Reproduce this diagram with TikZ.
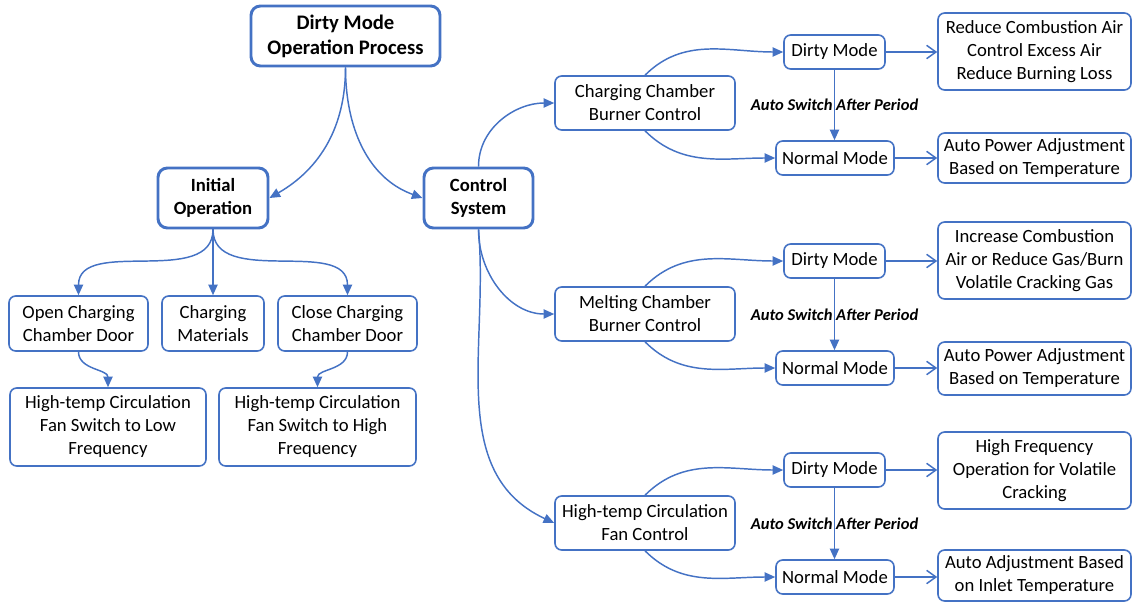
\documentclass[tikz,border=0pt]{standalone}
\usepackage{fontspec}
\setmainfont{Carlito}
\usetikzlibrary{arrows.meta}
\definecolor{ob}{HTML}{4472C4}
\begin{document}
\begin{tikzpicture}[x=0.75pt,y=-0.75pt,
 box/.style={draw=ob, line width=1.2pt, rounded corners=5pt, align=center, inner sep=0pt, fill=white, font=\fontsize{14}{17.25}\selectfont},
 mainbox/.style={box, line width=2.2pt, rounded corners=7pt, font=\fontsize{14}{17.5}\selectfont\bfseries},
 arr/.style={draw=ob, line width=1.1pt, -{Triangle[length=8pt,width=7pt]}},
 oarr/.style={draw=ob, line width=1.1pt, -{Straight Barb[length=7pt,width=10pt]}},
 lbl/.style={font=\fontsize{12.4}{14}\selectfont\bfseries\itshape}]
\useasboundingbox (0,0) rectangle (1132,603);

% main nodes
\node[mainbox, minimum width=141.75pt, minimum height=45pt, font=\fontsize{15.5}{18.75}\selectfont\bfseries] (root) at (345.5,36) {Dirty Mode\\Operation Process};
\node[mainbox, minimum width=82.5pt, minimum height=45pt] (init) at (213,198) {Initial\\Operation};
\node[mainbox, minimum width=81.75pt, minimum height=45pt] (ctrl) at (478.5,198) {Control\\System};

% left branch
\node[box, minimum width=104.25pt, minimum height=41.25pt] (open) at (78.5,323.5) {Open Charging\\Chamber Door};
\node[box, minimum width=76.5pt, minimum height=41.25pt] (mat) at (213,323.5) {Charging\\Materials};
\node[box, minimum width=104.25pt, minimum height=41.25pt] (close) at (347.5,323.5) {Close Charging\\Chamber Door};
\node[box, minimum width=147pt, minimum height=58.5pt] (low) at (108,427) {High-temp Circulation\\Fan Switch to Low\\Frequency};
\node[box, minimum width=147.75pt, minimum height=58.5pt] (high) at (317.5,427) {High-temp Circulation\\Fan Switch to High\\Frequency};

% right branch: controls
\node[box, minimum width=135pt, minimum height=40.5pt] (ccb) at (645,103) {Charging Chamber\\Burner Control};
\node[box, minimum width=135pt, minimum height=40.5pt] (mcb) at (645,314) {Melting Chamber\\Burner Control};
\node[box, minimum width=135pt, minimum height=40.5pt] (fan) at (645,523) {High-temp Circulation\\Fan Control};

% modes
\node[box, minimum width=75.75pt, minimum height=25.5pt] (d1) at (834.5,52) {Dirty Mode};
\node[box, minimum width=88.5pt, minimum height=25.5pt] (n1) at (835,158) {Normal Mode};
\node[box, minimum width=75.75pt, minimum height=25.5pt] (d2) at (834.5,261) {Dirty Mode};
\node[box, minimum width=88.5pt, minimum height=25.5pt] (n2) at (835,368) {Normal Mode};
\node[box, minimum width=75.75pt, minimum height=25.5pt] (d3) at (834.5,470) {Dirty Mode};
\node[box, minimum width=88.5pt, minimum height=25.5pt] (n3) at (835,577) {Normal Mode};

% results
\node[box, minimum width=144.75pt, minimum height=57.75pt] (r1) at (1034.5,51.5) {Reduce Combustion Air\\Control Excess Air\\Reduce Burning Loss};
\node[box, minimum width=144.75pt, minimum height=37.5pt] (a1) at (1034.5,158) {Auto Power Adjustment\\Based on Temperature};
\node[box, minimum width=144.75pt, minimum height=57.75pt] (r2) at (1034.5,260.5) {Increase Combustion\\Air or Reduce Gas/Burn\\Volatile Cracking Gas};
\node[box, minimum width=144.75pt, minimum height=39.75pt] (a2) at (1034.5,368.5) {Auto Power Adjustment\\Based on Temperature};
\node[box, minimum width=144.75pt, minimum height=57.75pt] (r3) at (1034.5,470.5) {High Frequency\\Operation for Volatile\\Cracking};
\node[box, minimum width=144.75pt, minimum height=38.25pt] (a3) at (1034.5,575.5) {Auto Adjustment Based\\on Inlet Temperature};

% connectors: top
\draw[arr] (root.south) to[out=-90,in=30] (init.east);
\draw[arr] (root.south) to[out=-90,in=160] (ctrl.west);

% left branch
\draw[arr] (init.south) to[out=-90,in=90] (open.north);
\draw[arr] (init.south) -- (mat.north);
\draw[arr] (init.south) to[out=-90,in=90] (close.north);
\draw[arr] (open.south) to[out=-90,in=90] (low.north);
\draw[arr] (close.south) to[out=-90,in=90] (high.north);

% control system
\draw[arr] (ctrl.north) to[out=90,in=180] (ccb.west);
\draw[arr] (ctrl.south) to[out=-90,in=180] (mcb.west);
\draw[arr] (ctrl.south) to[out=-85,in=155] (fan.west);

% section 1
\draw[arr] (ccb.north) to[out=45,in=180] (d1.west);
\draw[arr] (ccb.south) to[out=-45,in=180] (n1.west);
\draw[arr] (d1.south) -- node[lbl]{Auto Switch After Period} (d1.south |- n1.north);
\draw[oarr] (d1.east) -- (r1.west |- d1.east);
\draw[oarr] (n1.east) -- (a1.west |- n1.east);

% section 2
\draw[arr] (mcb.north) to[out=45,in=180] (d2.west);
\draw[arr] (mcb.south) to[out=-45,in=180] (n2.west);
\draw[arr] (d2.south) -- node[lbl]{Auto Switch After Period} (d2.south |- n2.north);
\draw[oarr] (d2.east) -- (r2.west |- d2.east);
\draw[oarr] (n2.east) -- (a2.west |- n2.east);

% section 3
\draw[arr] (fan.north) to[out=45,in=180] (d3.west);
\draw[arr] (fan.south) to[out=-45,in=180] (n3.west);
\draw[arr] (d3.south) -- node[lbl]{Auto Switch After Period} (d3.south |- n3.north);
\draw[oarr] (d3.east) -- (r3.west |- d3.east);
\draw[oarr] (n3.east) -- (a3.west |- n3.east);
\end{tikzpicture}
\end{document}
